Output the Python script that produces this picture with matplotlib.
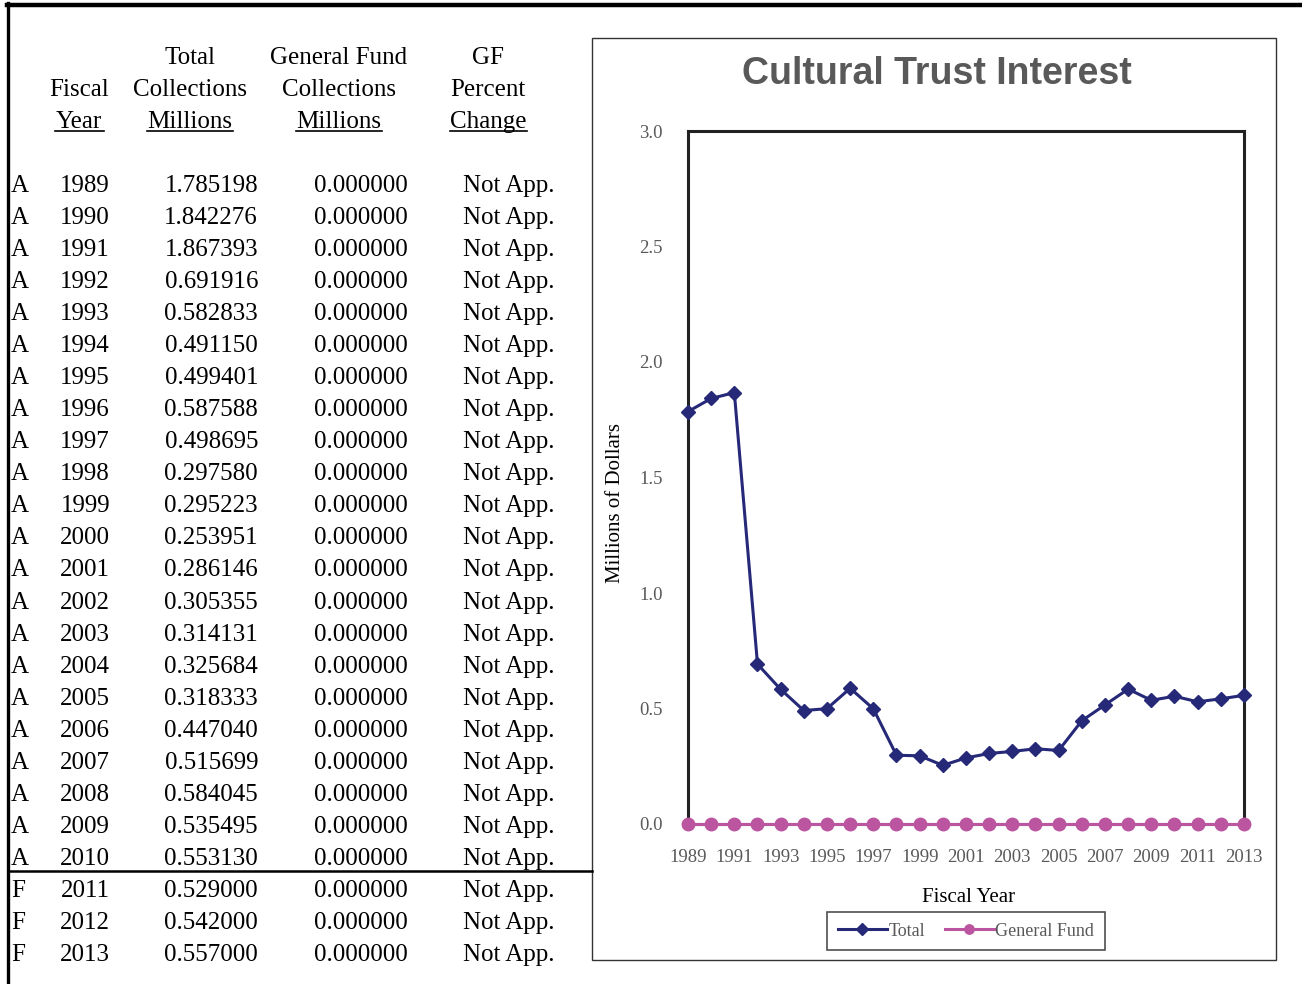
import numpy as np
import matplotlib
matplotlib.use("Agg")
import matplotlib.pyplot as plt
from matplotlib.lines import Line2D

# Datos de la tabla
status = ["A"] * 22 + ["F"] * 3
years = list(range(1989, 2014))
total = [1.785198, 1.842276, 1.867393, 0.691916, 0.582833, 0.491150, 0.499401,
         0.587588, 0.498695, 0.297580, 0.295223, 0.253951, 0.286146, 0.305355,
         0.314131, 0.325684, 0.318333, 0.447040, 0.515699, 0.584045, 0.535495,
         0.553130, 0.529000, 0.542000, 0.557000]
general_fund = [0.0] * 25
gf_change = ["Not App."] * 25

W, H = 1302, 984
NAVY = "#262878"
MAGENTA = "#BB55A0"
GRAY = "#595959"
SERIF = "Liberation Serif"
SANS = "Liberation Sans"

fig = plt.figure(figsize=(W / 100, H / 100), dpi=100)


def fx(x):
    return x / W


def fy(y):
    return 1 - y / H


def ftext(x, y, s, **kw):
    fig.text(fx(x), fy(y), s, family=SERIF, **kw)


# --- Bordes de la tabla ---
fig.add_artist(Line2D([fx(7), fx(1302)], [fy(5), fy(5)], color="black", lw=3.2))
fig.add_artist(Line2D([fx(8), fx(8)], [fy(3), fy(984)], color="black", lw=2.4))
fig.add_artist(Line2D([fx(8), fx(592)], [fy(871), fy(871)], color="black", lw=1.8))

# --- Encabezados ---
fs = 18
headers = [
    (79, ["", "Fiscal", "Year"]),
    (190, ["Total", "Collections", "Millions"]),
    (339, ["General Fund", "Collections", "Millions"]),
    (488, ["GF", "Percent", "Change"]),
]
under_w = {"Year": 49, "Millions": 86, "Change": 77}
for cx, lines in headers:
    for i, s in enumerate(lines):
        if s:
            ftext(cx, 58 + 32 * i, s, fontsize=fs, ha="center", va="center")
    last = lines[-1]
    hw = under_w[last] / 2
    fig.add_artist(Line2D([fx(cx - hw), fx(cx + hw)], [fy(131), fy(131)],
                          color="black", lw=1.2))

# --- Filas ---
for i in range(len(years)):
    y = 186 + 32.04 * i
    ftext(11, y, status[i], fontsize=fs, ha="left", va="center")
    ftext(110, y, str(years[i]), fontsize=fs, ha="right", va="center")
    ftext(258, y, f"{total[i]:.6f}", fontsize=fs, ha="right", va="center")
    ftext(408, y, f"{general_fund[i]:.6f}", fontsize=fs, ha="right", va="center")
    ftext(463, y, gf_change[i], fontsize=fs, ha="left", va="center")

# --- Caja del grafico ---
fig.add_artist(plt.Rectangle((fx(592), fy(960)), fx(1276 - 592), (960 - 38) / H,
                             fill=False, ec="#333333", lw=1.0))

fig.text(fx(937), fy(74), "Cultural Trust Interest", family=SANS, fontsize=27,
         fontweight="bold", color=GRAY, ha="center", va="center")

ax = fig.add_axes([fx(688), fy(824), fx(1244 - 688), (824 - 131) / H])
ax.plot(years, total, color=NAVY, lw=2.2, marker="D", ms=7.5, clip_on=False, zorder=3,
        label="Total")
ax.plot(years, general_fund, color=MAGENTA, lw=2.2, marker="o", ms=9, clip_on=False,
        zorder=4, label="General Fund")
ax.set_xlim(1989, 2013)
ax.set_ylim(0, 3)
ax.set_xticks(range(1989, 2014, 2))
ax.set_yticks(np.arange(0, 3.01, 0.5))
ax.set_yticklabels([f"{v:.1f}" for v in np.arange(0, 3.01, 0.5)])
ax.tick_params(length=0, labelsize=13.5, labelcolor=GRAY)
ax.tick_params(axis="x", pad=18)
ax.tick_params(axis="y", pad=18)
for lab in ax.get_xticklabels() + ax.get_yticklabels():
    lab.set_family(SERIF)
for sp in ax.spines.values():
    sp.set_color("#222222")
    sp.set_linewidth(2.2)

fig.text(fx(615), fy(503), "Millions of Dollars", family=SERIF, fontsize=15,
         rotation=90, ha="center", va="center")
fig.text(fx(969), fy(898), "Fiscal Year", family=SERIF, fontsize=15,
         ha="center", va="center")

leg = fig.legend(loc="center", bbox_to_anchor=(fx(966), fy(931)), ncol=2,
                 prop={"family": SERIF, "size": 13}, frameon=True, fancybox=False,
                 handlelength=2.7, handletextpad=0.1, columnspacing=1.1,
                 borderpad=0.6, borderaxespad=0, markerscale=0.75)
leg.get_frame().set_edgecolor("#222222")
leg.get_frame().set_linewidth(1.2)
for t in leg.get_texts():
    t.set_color(GRAY)

fig.savefig("out.png", dpi=100)
